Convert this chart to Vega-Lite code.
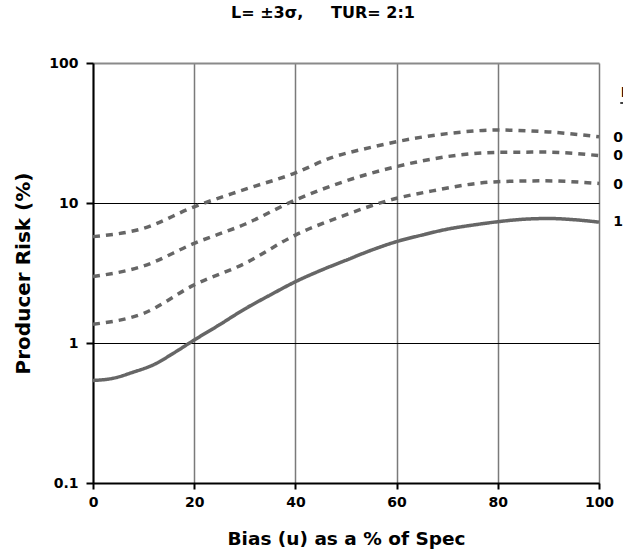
{
  "$schema": "https://vega.github.io/schema/vega-lite/v6.json",
  "width": 506,
  "height": 420,
  "autosize": {"type": "none"},
  "padding": {"left": 93, "top": 63, "right": 24, "bottom": 76},
  "background": "white",
  "title": {
    "text": "L= ±3σ,\u00a0\u00a0\u00a0\u00a0\u00a0TUR= 2:1",
    "anchor": "start",
    "frame": "group",
    "dx": 138,
    "offset": 35,
    "font": "DejaVu Sans",
    "fontSize": 16,
    "fontWeight": "bold",
    "color": "black"
  },
  "config": {
    "view": {"stroke": null},
    "axis": {"labelFont": "DejaVu Sans", "titleFont": "DejaVu Sans", "labelColor": "black", "titleColor": "black", "labelFlush": false}
  },
  "datasets": {
    "curves": [
      {"x": 0, "y": 5.75, "s": "a"}, {"x": 10, "y": 6.6, "s": "a"}, {"x": 20, "y": 9.4, "s": "a"}, {"x": 30, "y": 12.5, "s": "a"}, {"x": 40, "y": 16.4, "s": "a"}, {"x": 47, "y": 21.0, "s": "a"}, {"x": 55, "y": 25.0, "s": "a"}, {"x": 60, "y": 27.4, "s": "a"}, {"x": 70, "y": 31.3, "s": "a"}, {"x": 80, "y": 33.2, "s": "a"}, {"x": 90, "y": 32.2, "s": "a"}, {"x": 100, "y": 29.7, "s": "a"},
      {"x": 0, "y": 2.98, "s": "b"}, {"x": 10, "y": 3.55, "s": "b"}, {"x": 20, "y": 5.15, "s": "b"}, {"x": 30, "y": 7.05, "s": "b"}, {"x": 40, "y": 10.5, "s": "b"}, {"x": 48, "y": 13.6, "s": "b"}, {"x": 60, "y": 18.2, "s": "b"}, {"x": 66, "y": 20.3, "s": "b"}, {"x": 80, "y": 23.0, "s": "b"}, {"x": 89, "y": 23.1, "s": "b"}, {"x": 100, "y": 21.8, "s": "b"},
      {"x": 0, "y": 1.36, "s": "c"}, {"x": 10, "y": 1.63, "s": "c"}, {"x": 20, "y": 2.6, "s": "c"}, {"x": 30, "y": 3.7, "s": "c"}, {"x": 40, "y": 5.9, "s": "c"}, {"x": 49, "y": 8.0, "s": "c"}, {"x": 60, "y": 10.8, "s": "c"}, {"x": 66, "y": 12.0, "s": "c"}, {"x": 80, "y": 14.2, "s": "c"}, {"x": 89, "y": 14.4, "s": "c"}, {"x": 100, "y": 13.8, "s": "c"},
      {"x": 0, "y": 0.54, "s": "d"}, {"x": 4, "y": 0.56, "s": "d"}, {"x": 8, "y": 0.62, "s": "d"}, {"x": 12, "y": 0.70, "s": "d"}, {"x": 16, "y": 0.85, "s": "d"}, {"x": 20, "y": 1.05, "s": "d"}, {"x": 25, "y": 1.35, "s": "d"}, {"x": 30, "y": 1.75, "s": "d"}, {"x": 35, "y": 2.2, "s": "d"}, {"x": 40, "y": 2.74, "s": "d"}, {"x": 45, "y": 3.3, "s": "d"}, {"x": 50, "y": 3.9, "s": "d"}, {"x": 55, "y": 4.6, "s": "d"}, {"x": 60, "y": 5.3, "s": "d"}, {"x": 65, "y": 5.9, "s": "d"}, {"x": 70, "y": 6.5, "s": "d"}, {"x": 75, "y": 6.95, "s": "d"}, {"x": 80, "y": 7.35, "s": "d"}, {"x": 85, "y": 7.65, "s": "d"}, {"x": 90, "y": 7.75, "s": "d"}, {"x": 95, "y": 7.6, "s": "d"}, {"x": 100, "y": 7.3, "s": "d"}
    ],
    "labels": [
      {"x": 102.8, "y": 29.1, "t": "0"},
      {"x": 102.8, "y": 21.7, "t": "0"},
      {"x": 102.8, "y": 13.4, "t": "0"},
      {"x": 102.8, "y": 7.35, "t": "1"},
      {"x": 104.3, "y": 61, "t": "I"}
    ],
    "underline": [
      {"x": 104.2, "x2": 106, "y": 51.8}
    ]
  },
  "layer": [
    {
      "data": {"name": "curves"},
      "mark": {"type": "line", "interpolate": "monotone", "strokeWidth": 3.5, "color": "#666666", "clip": false},
      "encoding": {
        "x": {
          "field": "x", "type": "quantitative",
          "scale": {"domain": [0, 100], "nice": false, "zero": false},
          "axis": {
            "values": [0, 20, 40, 60, 80, 100],
            "title": "Bias (u) as a % of Spec",
            "titleFontSize": 18.5, "titleFontWeight": "bold", "titlePadding": 20,
            "labelFontSize": 14, "labelFontWeight": "bold", "labelPadding": 6,
            "grid": true, "gridColor": "#7a7a7a", "gridWidth": 1.5,
            "domainColor": "black", "domainWidth": 2,
            "tickColor": "black", "tickWidth": 2, "tickSize": 6
          }
        },
        "y": {
          "field": "y", "type": "quantitative",
          "scale": {"type": "log", "domain": [0.1, 100], "nice": false},
          "axis": {
            "values": [0.1, 1, 10, 100],
            "labelExpr": "datum.value >= 1 ? format(datum.value, 'd') : '0.1'",
            "title": "Producer Risk (%)",
            "titleFontSize": 20, "titleFontWeight": "bold", "titlePadding": 15,
            "labelFontSize": 14, "labelFontWeight": "bold", "labelPadding": 8,
            "grid": true,
            "gridColor": {"condition": {"test": "datum.value == 100", "value": "#8a8a8a"}, "value": "black"},
            "gridWidth": {"condition": {"test": "datum.value == 100", "value": 2}, "value": 1},
            "domainColor": "black", "domainWidth": 2,
            "tickColor": "black", "tickWidth": 2, "tickSize": 7
          }
        },
        "detail": {"field": "s"},
        "strokeDash": {
          "field": "s", "type": "nominal", "legend": null,
          "scale": {"domain": ["a", "b", "c", "d"], "range": [[7, 6], [7, 6], [7, 6], [1, 0]]}
        }
      }
    },
    {
      "data": {"name": "labels"},
      "mark": {"type": "text", "align": "left", "baseline": "middle", "font": "DejaVu Sans", "fontSize": 14, "fontWeight": "bold", "color": "black", "clip": false},
      "encoding": {
        "x": {"field": "x", "type": "quantitative"},
        "y": {"field": "y", "type": "quantitative"},
        "text": {"field": "t"}
      }
    },
    {
      "data": {"name": "underline"},
      "mark": {"type": "rule", "color": "black", "strokeWidth": 1.5, "clip": false},
      "encoding": {
        "x": {"field": "x", "type": "quantitative"},
        "x2": {"field": "x2"},
        "y": {"field": "y", "type": "quantitative"}
      }
    }
  ]
}
